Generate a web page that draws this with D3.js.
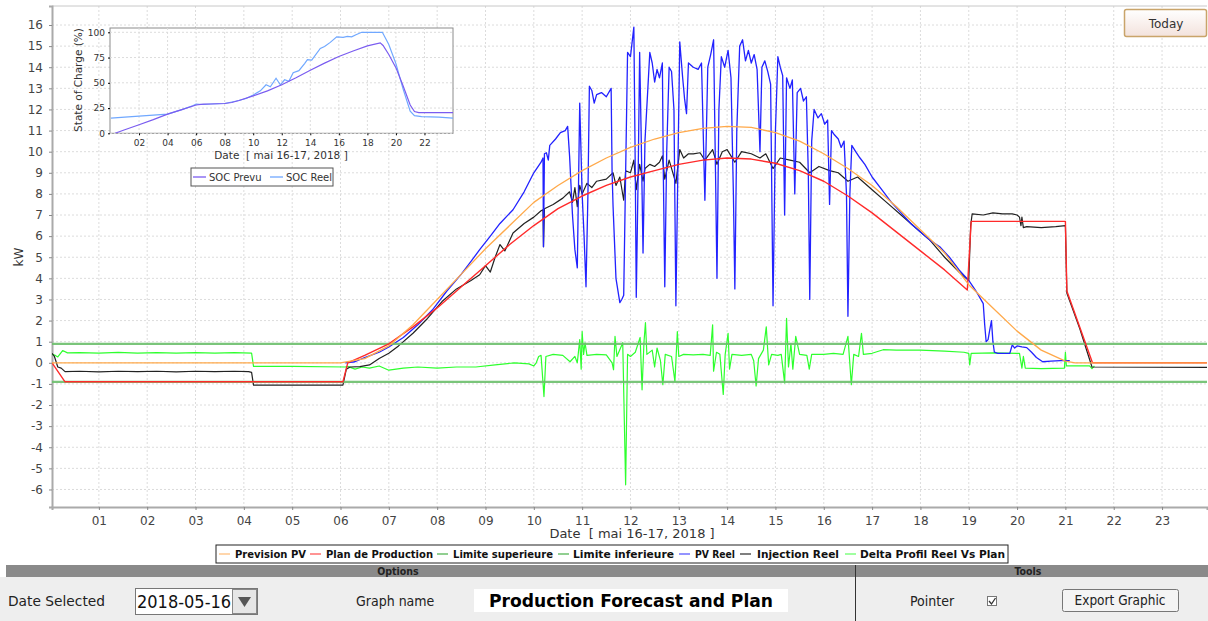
<!DOCTYPE html>
<html><head><meta charset="utf-8">
<script src="https://cdn.jsdelivr.net/npm/d3@7"></script>
<style>
body{margin:0;background:#fff;overflow:hidden}
text{font-family:"DejaVu Sans",sans-serif;white-space:pre}
.cond{font-family:"DejaVu Sans Condensed","DejaVu Sans",sans-serif;font-stretch:condensed}
</style></head>
<body><svg id="c" width="1208" height="621"></svg>
<script>
// ---------------- DATA ----------------
const hourTicks = d3.range(1,24);
const kwTicks = d3.range(-6,17);
const xTickLabels = hourTicks.map(h => (h<10?"0":"")+h);
const xLabel = "Date  [ mai 16-17, 2018 ]";
const yLabel = "kW";
const seriesNames = ["Prevision PV","Plan de Production","Limite superieure","Limite inferieure","PV Reel","Injection Reel","Delta Profil Reel Vs Plan"];

const previsionPV = [[0.03,0],[6.0,0],[6.5,0.2],[7,0.8],[7.5,1.8],[8,3.0],[8.5,4.2],[9,5.4],[9.5,6.5],[10,7.6],[10.5,8.4],[11,9.1],[11.5,9.7],[12,10.2],[12.5,10.6],[13,10.9],[13.5,11.1],[14,11.2],[14.5,11.15],[15,10.9],[15.5,10.5],[16,9.9],[16.5,9.2],[17,8.4],[17.5,7.4],[18,6.3],[18.5,5.2],[19,3.7],[19.5,2.6],[20,1.5],[20.5,0.6],[21,0.08],[21.2,0],[23.93,0]];

const planProduction = [[0.03,0],[0.3,-0.9],[6.05,-0.9],[6.15,0],[6.5,0.35],[7,0.9],[7.5,1.7],[8,2.6],[8.5,3.6],[9,4.6],[9.5,5.6],[10,6.5],[10.5,7.3],[11,7.9],[11.5,8.4],[12,8.8],[12.5,9.1],[13,9.4],[13.5,9.6],[14,9.7],[14.5,9.65],[15,9.45],[15.5,9.1],[16,8.6],[16.5,7.9],[17,7.1],[17.5,6.2],[18,5.3],[18.5,4.4],[18.97,3.45],[19.05,6.7],[21.0,6.7],[21.03,3.4],[21.56,0],[23.93,0]];

const limiteSup = [[0.03,0.9],[23.93,0.9]];
const limiteInf = [[0.03,-0.9],[23.93,-0.9]];

const pvReel = [[6.10,0],[6.3,0.05],[6.5,0.25],[6.8,0.5],[7.0,0.75],[7.3,1.2],[7.6,1.8],[7.9,2.5],[8.2,3.4],[8.5,4.2],[8.7,4.8],[8.88,5.36],[9.1,6.0],[9.3,6.6],[9.57,7.25],[9.8,8.1],[10.0,9.0],[10.15,9.5],[10.19,9.7],[10.2,5.5],[10.22,9.9],[10.26,9.95],[10.3,9.6],[10.33,10.3],[10.45,10.6],[10.55,10.9],[10.65,11.0],[10.7,11.2],[10.74,9.8],[10.8,7.0],[10.85,5.36],[10.9,4.5],[10.95,12.3],[11.0,8.0],[11.04,6.0],[11.08,3.6],[11.12,8.0],[11.15,13.1],[11.2,12.9],[11.25,12.3],[11.3,12.7],[11.4,12.8],[11.5,12.6],[11.6,13.0],[11.62,9.0],[11.64,7.4],[11.7,4.0],[11.78,2.85],[11.82,3.0],[11.86,3.2],[11.9,9.0],[11.94,14.7],[12.0,14.5],[12.07,15.9],[12.1,9.0],[12.12,3.1],[12.16,9.0],[12.19,14.7],[12.22,11.0],[12.26,5.2],[12.3,10.5],[12.36,13.0],[12.4,14.7],[12.45,14.2],[12.5,13.3],[12.55,13.9],[12.6,13.5],[12.66,14.2],[12.68,9.0],[12.71,3.6],[12.75,10.0],[12.8,14.0],[12.85,13.8],[12.9,12.0],[12.94,2.7],[12.98,9.0],[13.02,15.2],[13.08,13.5],[13.12,12.5],[13.16,11.8],[13.2,14.2],[13.3,14.0],[13.4,13.9],[13.47,14.2],[13.54,7.7],[13.6,14.0],[13.66,14.6],[13.72,15.3],[13.76,9.0],[13.79,4.0],[13.83,12.0],[13.88,14.5],[13.95,14.0],[14.02,14.8],[14.08,13.5],[14.13,8.0],[14.16,3.5],[14.2,11.0],[14.26,15.0],[14.32,15.3],[14.38,14.3],[14.44,14.8],[14.5,14.2],[14.56,14.6],[14.62,13.9],[14.68,10.0],[14.72,14.0],[14.78,14.3],[14.84,13.8],[14.9,13.2],[14.95,2.7],[15.0,11.0],[15.05,14.5],[15.1,14.0],[15.15,13.6],[15.19,7.0],[15.23,13.5],[15.3,13.0],[15.35,13.4],[15.4,8.0],[15.45,12.8],[15.52,13.0],[15.58,12.4],[15.64,12.6],[15.68,9.0],[15.71,3.0],[15.75,10.5],[15.8,12.0],[15.88,11.6],[15.95,11.8],[16.02,11.3],[16.08,11.5],[16.12,7.5],[16.16,11.0],[16.22,10.8],[16.3,10.6],[16.36,10.2],[16.42,10.5],[16.47,8.0],[16.5,2.2],[16.54,8.0],[16.58,10.3],[16.66,10.0],[16.75,9.7],[16.85,9.4],[16.95,9.0],[17.0,8.8],[17.2,8.2],[17.4,7.6],[17.6,7.1],[17.8,6.6],[18.0,6.2],[18.2,5.8],[18.4,5.5],[18.6,5.0],[18.8,4.4],[19.0,3.9],[19.15,3.4],[19.3,2.8],[19.33,1.8],[19.36,1.0],[19.4,1.1],[19.43,1.5],[19.47,2.0],[19.5,1.0],[19.53,0.5],[19.6,0.45],[19.7,0.45],[19.85,0.45],[19.9,0.85],[19.95,0.7],[20.0,0.8],[20.1,0.75],[20.2,0.72],[20.3,0.5],[20.4,0.25],[20.53,0.05],[20.7,0.08],[20.9,0.1],[21.09,0.1]];

const injectionReel = [[0.03,0.45],[0.08,0.3],[0.15,-0.2],[0.22,-0.25],[0.3,-0.42],[0.6,-0.4],[1.0,-0.43],[1.4,-0.4],[1.8,-0.42],[2.2,-0.4],[2.6,-0.43],[3.0,-0.4],[3.4,-0.42],[3.8,-0.4],[4.1,-0.42],[4.16,-0.45],[4.2,-1.06],[5.0,-1.06],[6.05,-1.06],[6.12,-0.3],[6.2,-0.2],[6.4,-0.18],[6.6,-0.1],[6.8,0.2],[7.0,0.45],[7.2,0.8],[7.5,1.4],[7.8,2.1],[8.1,2.9],[8.4,3.5],[8.7,3.9],[8.88,4.17],[9.0,4.6],[9.1,4.3],[9.2,5.0],[9.3,5.6],[9.4,5.3],[9.57,6.15],[9.8,6.6],[10.0,6.9],[10.15,7.2],[10.19,7.25],[10.2,5.5],[10.22,7.3],[10.4,7.5],[10.6,7.8],[10.74,8.1],[10.8,7.6],[10.85,8.3],[10.9,7.4],[10.95,8.4],[11.0,8.0],[11.1,8.5],[11.2,8.3],[11.3,8.6],[11.5,8.7],[11.64,9.0],[11.7,8.4],[11.78,8.8],[11.86,7.7],[11.9,9.1],[12.0,9.0],[12.07,9.6],[12.12,8.2],[12.19,9.4],[12.26,8.6],[12.3,9.2],[12.4,9.4],[12.5,9.3],[12.6,9.5],[12.66,9.8],[12.71,8.7],[12.8,9.6],[12.94,8.5],[13.02,10.1],[13.1,9.7],[13.2,9.9],[13.3,9.9],[13.44,9.95],[13.54,9.6],[13.7,10.1],[13.79,9.4],[13.9,10.0],[14.0,10.1],[14.16,9.5],[14.3,10.0],[14.5,9.9],[14.68,9.7],[14.8,9.9],[14.95,9.2],[15.1,9.7],[15.3,9.6],[15.5,9.5],[15.71,9.0],[15.9,9.3],[16.12,9.1],[16.3,9.0],[16.5,8.6],[16.7,8.8],[17.0,8.2],[17.3,7.6],[17.6,7.0],[17.9,6.4],[18.2,5.8],[18.5,5.0],[18.8,4.3],[19.0,3.9],[19.04,6.5],[19.07,7.05],[19.3,7.0],[19.5,7.1],[19.7,7.05],[19.9,7.05],[20.0,7.0],[20.05,6.9],[20.08,6.5],[20.1,6.9],[20.13,6.4],[20.2,6.45],[20.5,6.4],[20.8,6.45],[21.0,6.5],[21.03,3.3],[21.3,1.6],[21.55,-0.2],[23.93,-0.22]];

const deltaProfil = [[0.03,0.4],[0.1,0.35],[0.15,0.28],[0.25,0.58],[0.35,0.47],[0.6,0.48],[1.0,0.46],[1.4,0.49],[1.8,0.46],[2.2,0.48],[2.6,0.46],[3.0,0.48],[3.4,0.46],[3.8,0.48],[4.16,0.46],[4.2,-0.17],[5.0,-0.17],[6.1,-0.2],[6.15,-0.17],[6.3,-0.3],[6.45,-0.2],[6.6,-0.25],[6.8,-0.15],[7.0,-0.35],[7.3,-0.25],[7.6,-0.2],[8.0,-0.25],[8.4,-0.2],[8.8,-0.2],[9.2,-0.1],[9.6,0.0],[9.9,-0.05],[10.0,-0.15],[10.05,0.0],[10.1,0.3],[10.15,0.35],[10.21,-1.6],[10.25,0.3],[10.4,0.4],[10.6,0.35],[10.75,0.05],[10.85,0.3],[10.9,0.0],[10.95,1.1],[10.98,-0.3],[11.0,1.48],[11.03,0.4],[11.06,0.95],[11.1,0.35],[11.3,0.4],[11.5,0.38],[11.62,0.0],[11.65,-0.33],[11.68,1.25],[11.72,0.3],[11.84,0.95],[11.9,-5.78],[11.94,0.4],[12.0,0.3],[12.1,0.5],[12.2,1.2],[12.24,-1.28],[12.28,1.0],[12.31,1.9],[12.34,0.4],[12.45,0.6],[12.5,-0.2],[12.55,0.7],[12.62,0.1],[12.67,-1.04],[12.72,0.4],[12.85,0.3],[12.92,-0.88],[12.97,1.48],[13.0,0.3],[13.1,0.4],[13.3,0.38],[13.5,0.4],[13.65,0.35],[13.7,1.8],[13.72,-0.4],[13.78,0.5],[13.85,0.4],[13.92,-1.5],[13.96,0.4],[14.02,1.4],[14.05,-0.3],[14.1,0.4],[14.3,0.35],[14.5,0.4],[14.55,0.1],[14.6,-1.1],[14.65,0.2],[14.75,0.6],[14.81,1.7],[14.86,-0.1],[14.92,0.4],[15.05,0.35],[15.12,0.4],[15.19,-0.95],[15.23,2.1],[15.27,-0.2],[15.32,0.9],[15.36,-0.3],[15.42,1.25],[15.5,0.4],[15.65,0.35],[15.7,-0.3],[15.75,0.4],[16.0,0.4],[16.2,0.45],[16.4,0.4],[16.5,1.25],[16.57,-1.04],[16.62,0.4],[16.72,0.3],[16.78,1.4],[16.82,0.4],[17.0,0.45],[17.23,0.62],[17.5,0.6],[18.0,0.6],[18.5,0.55],[18.9,0.5],[19.0,0.45],[19.02,-0.1],[19.05,0.45],[19.5,0.47],[20.0,0.45],[20.05,0.45],[20.1,-0.25],[20.13,0.3],[20.17,-0.25],[20.5,-0.28],[20.98,-0.25],[21.0,0.5],[21.02,-0.15],[21.5,-0.15],[21.55,-0.28],[21.6,-0.15]];

// inset (State of Charge)
const socTicks = [0,25,50,75,100];
const socHourTicks = [2,4,6,8,10,12,14,16,18,20,22];
const socNames = ["SOC Prevu","SOC Reel"];
const socPrevu = [[0.32,0],[1,3.5],[2,8.5],[3,13.5],[4,19],[5,23.5],[6,28],[6.5,28.8],[7,29],[8,29.5],[8.5,30.5],[9,32.5],[10,37],[11,42],[12,48],[13,55],[14,62.5],[15,69.5],[16,76],[17,81.5],[18,86.5],[18.9,89.5],[19.1,87],[19.5,78],[20,65],[20.5,47],[21,28],[21.3,21.5],[21.6,20.5],[24,20.5]];
const socReel = [[0.03,15],[1,16],[2,17],[3,18],[4,19],[5,23.5],[5.8,27.5],[6,29],[6.5,28.5],[7,29],[8,29.5],[9,32.5],[9.5,34.5],[10,38],[10.5,42],[10.9,48],[11.2,46],[11.6,54.5],[11.9,48],[12.2,53],[12.5,51.5],[12.8,60],[13.2,62],[13.6,69],[13.8,73],[14.1,72.5],[14.7,84],[15.0,86],[15.4,90],[15.85,95.5],[16.3,95],[16.6,96],[16.9,95.5],[17.2,97.5],[17.6,100],[19.05,100],[19.5,88],[20,69],[20.5,44],[21.0,22],[21.3,17.5],[21.8,16.5],[23,16],[24,15]];

// ---------------- CHART ----------------
const svg = d3.select("#c");
const L=52,R=1207,T=6,B=507;
const x = d3.scaleLinear().domain([0.03,23.93]).range([L,R]);
const y = d3.scaleLinear().domain([-6.83,16.9]).range([B,T]);

svg.append("defs").append("clipPath").attr("id","pc").append("rect").attr("x",L).attr("y",T).attr("width",R-L).attr("height",B-T);

// grid
const grid = svg.append("g");
grid.selectAll(".gy").data(kwTicks).join("line").attr("x1",L).attr("x2",R).attr("y1",d=>y(d)).attr("y2",d=>y(d))
  .attr("stroke","#dcdcdc").attr("stroke-dasharray","2,2").attr("stroke-width",1);
grid.selectAll(".gx").data(hourTicks).join("line").attr("y1",T).attr("y2",B).attr("x1",d=>x(d)).attr("x2",d=>x(d))
  .attr("stroke","#dcdcdc").attr("stroke-dasharray","2,2").attr("stroke-width",1);

// frame
svg.append("line").attr("x1",L).attr("x2",R).attr("y1",T).attr("y2",T).attr("stroke","#c8c8c8");

// axes
const ya = svg.append("g").attr("transform",`translate(${L},0)`)
  .call(d3.axisLeft(y).tickValues(kwTicks).tickSize(3).tickPadding(6).tickFormat(d=>String(d)));
ya.select(".domain").attr("stroke","#aaa").attr("stroke-width",2);
ya.selectAll("text").attr("font-size",12).attr("fill","#444").attr("font-family","DejaVu Sans");
ya.selectAll(".tick line").attr("stroke","#888");

const xa = svg.append("g").attr("transform",`translate(0,${B})`)
  .call(d3.axisBottom(x).tickValues(hourTicks).tickSize(3).tickPadding(6).tickFormat((d,i)=>xTickLabels[i]));
xa.select(".domain").attr("stroke","#aaa").attr("stroke-width",2);
xa.selectAll("text").attr("font-size",12).attr("fill","#444").attr("font-family","DejaVu Sans");
xa.selectAll(".tick line").attr("stroke","#888");

svg.append("text").attr("transform","translate(23,257) rotate(-90)").attr("text-anchor","middle")
  .attr("font-size",12).attr("fill","#333").text(yLabel);
svg.append("text").attr("x",632).attr("y",538).attr("text-anchor","middle")
  .attr("font-size",13).attr("fill","#333").text(xLabel);

// series
const line = d3.line().x(d=>x(d[0])).y(d=>y(d[1]));
const colors = ["#ffa94a","#ff2a2a","#6cbf6c","#6cbf6c","#2222ff","#222222","#2eff2e"];
const widths = [1.3,1.4,2.2,2.2,1.3,1.2,1.2];
const opac = [1,1,0.9,0.9,1,1,1];
const allSeries = [previsionPV,planProduction,limiteSup,limiteInf,pvReel,injectionReel,deltaProfil];
const pg = svg.append("g").attr("clip-path","url(#pc)");
for (let i=allSeries.length-1;i>=0;i--){
  pg.append("path").datum(allSeries[i]).attr("d",line).attr("fill","none")
    .attr("stroke",colors[i]).attr("stroke-width",widths[i]).attr("stroke-opacity",opac[i]).attr("stroke-linejoin","round");
}

// inset
const IL=110,IR=453,IT=28,IB=133.3;
const xi = d3.scaleLinear().domain([0,24]).range([110.5,453]);
const yi = d3.scaleLinear().domain([0,100]).range([IB,32.3]);
const ig = svg.append("g");
ig.append("rect").attr("x",IL).attr("y",IT).attr("width",IR-IL).attr("height",IB-IT).attr("fill","#fff").attr("stroke","#8c8c8c").attr("stroke-width",1);
ig.selectAll(".igy").data(socTicks).join("line").attr("x1",IL).attr("x2",IR).attr("y1",d=>yi(d)).attr("y2",d=>yi(d)).attr("stroke","#dcdcdc").attr("stroke-dasharray","2,2");
ig.selectAll(".igx").data(socHourTicks).join("line").attr("y1",IT).attr("y2",IB).attr("x1",d=>xi(d)).attr("x2",d=>xi(d)).attr("stroke","#dcdcdc").attr("stroke-dasharray","2,2");
const iya = ig.append("g").attr("transform",`translate(${IL},0)`).call(d3.axisLeft(yi).tickValues(socTicks).tickSize(2).tickPadding(3));
iya.select(".domain").remove();
iya.selectAll("text").attr("font-size",9).attr("fill","#333").attr("font-family","DejaVu Sans");
const ixa = ig.append("g").attr("transform",`translate(0,${IB})`).call(d3.axisBottom(xi).tickValues(socHourTicks).tickSize(2).tickPadding(4).tickFormat(d=>(d<10?"0":"")+d));
ixa.select(".domain").remove();
ixa.selectAll("text").attr("font-size",9).attr("fill","#333").attr("font-family","DejaVu Sans");
ig.append("text").attr("transform","translate(82,80) rotate(-90)").attr("text-anchor","middle").attr("font-size",10.5).attr("fill","#333").text("State of Charge (%)");
ig.append("text").attr("x",281).attr("y",159).attr("text-anchor","middle").attr("font-size",10.5).attr("fill","#333").text(xLabel);
ig.append("defs").append("clipPath").attr("id","ic").append("rect").attr("x",IL).attr("y",IT).attr("width",IR-IL).attr("height",IB-IT);
const iline = d3.line().x(d=>xi(d[0])).y(d=>yi(d[1]));
const socColors = ["#7a5cf0","#70a8ff"];
const icg = ig.append("g").attr("clip-path","url(#ic)");
[socReel,socPrevu].forEach((s,k)=>{
  icg.append("path").datum(s).attr("d",iline).attr("fill","none").attr("stroke",socColors[1-k]).attr("stroke-width",1.2);
});
// inset legend
ig.append("rect").attr("x",191).attr("y",168).attr("width",142).attr("height",18).attr("fill","#fff").attr("stroke","#555");
const ilx=[193,270];
socNames.forEach((n,i)=>{
  ig.append("line").attr("x1",ilx[i]).attr("x2",ilx[i]+13).attr("y1",177).attr("y2",177).attr("stroke",socColors[i]).attr("stroke-width",1.3);
  ig.append("text").attr("x",ilx[i]+16).attr("y",181).attr("font-size",10).attr("fill","#333").text(n);
});

// main legend
svg.append("rect").attr("x",216).attr("y",545).attr("width",792).attr("height",18).attr("fill","#fff").attr("stroke","#222");
const legCol = ["#ffc890","#ff7070","#6cbf6c","#6cbf6c","#7070ff","#555","#80ff80"];
const legX = [219,310,437,558,679,740,845];
const legT = [235,326,453,573,695,757,860];
const legEnd = [306,433,553,674,735,839,1005];
seriesNames.forEach((n,i)=>{
  svg.append("line").attr("x1",legX[i]).attr("x2",legX[i]+11).attr("y1",554).attr("y2",554).attr("stroke",legCol[i]).attr("stroke-width",1.5);
  svg.append("text").attr("class","cond").attr("x",legT[i]).attr("y",558).attr("font-size",11).attr("font-weight","bold").attr("fill","#111")
    .attr("textLength",legEnd[i]-legT[i]).attr("lengthAdjust","spacingAndGlyphs").text(n);
});

// bottom panel
const bp = svg.append("g");
bp.append("rect").attr("x",0).attr("y",577).attr("width",1208).attr("height",44).attr("fill","#eeeeee");
bp.append("rect").attr("x",6).attr("y",565).attr("width",1202).attr("height",12).attr("fill","#8a8a8a");
bp.append("line").attr("x1",855.5).attr("x2",855.5).attr("y1",565).attr("y2",621).attr("stroke","#333");
bp.append("text").attr("class","cond").attr("x",398).attr("y",575).attr("text-anchor","middle").attr("font-size",10.5).attr("font-weight","bold").attr("fill","#222").text("Options");
bp.append("text").attr("class","cond").attr("x",1028).attr("y",575).attr("text-anchor","middle").attr("font-size",10.5).attr("font-weight","bold").attr("fill","#222").text("Tools");
bp.append("text").attr("class","cond").attr("x",8).attr("y",606).attr("font-size",14).attr("fill","#222").attr("textLength",97).attr("lengthAdjust","spacingAndGlyphs").text("Date Selected");
bp.append("rect").attr("x",135.5).attr("y",588.5).attr("width",122).attr("height",26).attr("fill","#fff").attr("stroke","#777");
bp.append("text").attr("class","cond").attr("x",137).attr("y",608).attr("font-size",18).attr("fill","#111").text("2018-05-16");
bp.append("rect").attr("x",232.5).attr("y",589.5).attr("width",24).attr("height",24).attr("fill","#e6e6e6").attr("stroke","#888");
bp.append("path").attr("d","M238,597 L251,597 L244.5,607 Z").attr("fill","#555");
bp.append("text").attr("class","cond").attr("x",356).attr("y",606).attr("font-size",14).attr("fill","#222").text("Graph name");
bp.append("rect").attr("x",474).attr("y",589).attr("width",314).attr("height",23).attr("fill","#fff");
bp.append("text").attr("class","cond").attr("x",489).attr("y",607).attr("font-size",18).attr("font-weight","bold").attr("fill","#000")
  .attr("textLength",284).attr("lengthAdjust","spacingAndGlyphs").text("Production Forecast and Plan");
bp.append("text").attr("class","cond").attr("x",910).attr("y",606).attr("font-size",14).attr("fill","#222").text("Pointer");
bp.append("rect").attr("x",987.5).attr("y",596.5).attr("width",9).attr("height",9).attr("fill","#fff").attr("stroke","#777");
bp.append("path").attr("d","M989,601 L991.5,604 L995.5,598").attr("fill","none").attr("stroke","#333").attr("stroke-width",1.3);
const eg = bp.append("g");
eg.append("rect").attr("x",1062.5).attr("y",589.5).attr("width",116).attr("height",22).attr("rx",2).attr("fill","#f4f4f4").attr("stroke","#777");
eg.append("text").attr("class","cond").attr("x",1120).attr("y",605).attr("text-anchor","middle").attr("font-size",13.5).attr("fill","#222").text("Export Graphic");

// Today button
const grad = svg.append("defs").append("linearGradient").attr("id","tg").attr("x1",0).attr("x2",0).attr("y1",0).attr("y2",1);
grad.append("stop").attr("offset","0").attr("stop-color","#ffffff");
grad.append("stop").attr("offset","1").attr("stop-color","#f3e2dc");
svg.append("rect").attr("x",1124.5).attr("y",9.5).attr("width",82).attr("height",27).attr("rx",2).attr("fill","url(#tg)").attr("stroke","#c9a46a").attr("stroke-width",1.5);
svg.append("text").attr("x",1166).attr("y",28).attr("text-anchor","middle").attr("font-size",12).attr("fill","#333").text("Today");
</script></body></html>
